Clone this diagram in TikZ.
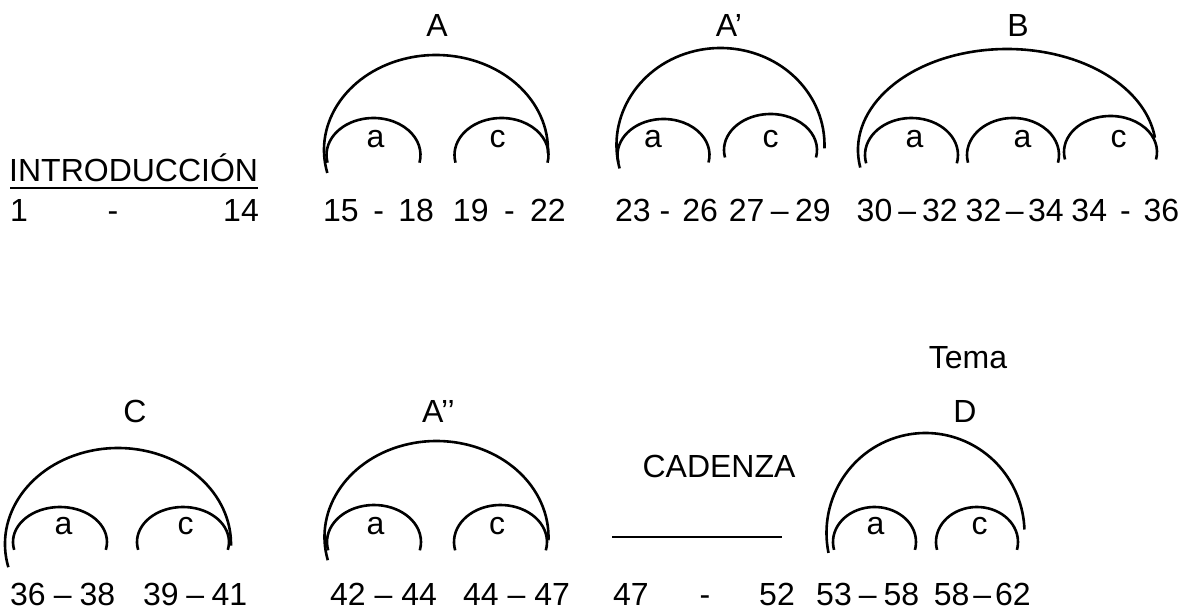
\documentclass[tikz,border=0pt]{standalone}
\usepackage{fontspec}
\setmainfont{Liberation Sans}
\newcommand\gp[1]{\hspace{#1pt}}
\begin{document}
\begin{tikzpicture}[x=1pt,y=1pt,
  arcline/.style={line width=2.6pt},
  ul/.style={line width=1.4pt},
  lbl/.style={inner sep=0pt,font=\fontsize{32}{38}\selectfont},
]
\newcommand\myarc[6]{\draw[arcline] (#1,#2) ++(#5:#3 and #4) arc[start angle=#5,end angle=#6,x radius=#3,y radius=#4];}
\fill[white] (0,0) rectangle (1194,610);
\useasboundingbox (0,0) rectangle (1194,610);

% ---------- top row ----------
\node[lbl,anchor=base west] (intro) at (9,428) {INTRODUCCIÓN};
\coordinate (iul1) at (10,422);
\coordinate (iul2) at (258,422);
\draw[ul] (iul1) -- (iul2);
\node[lbl,anchor=base west] (n1) at (10,388) {1};
\node[lbl,anchor=base] (n1d) at (113,388) {-};
\node[lbl,anchor=base east] (n14) at (259,388) {14};

% A
\node[lbl,anchor=base] (lA) at (437,573) {A};
\myarc{436}{460}{112}{95}{194}{-2}
\myarc{373.5}{455}{47}{37}{192}{-12}
\myarc{501.5}{455}{47}{37}{192}{-12}
\node[lbl,anchor=base] (lAa) at (375.5,462) {a};
\node[lbl,anchor=base] (lAc) at (497.5,462) {c};
\node[lbl,anchor=base west] (nA1) at (323,388) {15\gp{14.5}-\gp{14.5}18};
\node[lbl,anchor=base east] (nA2) at (566,388) {19\gp{15.5}-\gp{15.5}22};

% A'
\node[lbl,anchor=base] (lA1) at (729,573) {A’};
\myarc{720.5}{465}{104}{97}{194}{-2}
\myarc{663.5}{455}{46}{36}{192}{-12}
\myarc{770.5}{460}{46.5}{36}{192}{-12}
\node[lbl,anchor=base] (lA1a) at (653,462) {a};
\node[lbl,anchor=base] (lA1c) at (770.5,462) {c};
\node[lbl,anchor=base west] (nB1) at (615,388) {23 -\gp{12}26};
\node[lbl,anchor=base east] (nB2) at (831,388) {27\gp{6.5}–\gp{6.5}29};

% B
\node[lbl,anchor=base] (lB) at (1018,573) {B};
\myarc{1007}{460}{149}{101}{190}{7}
\myarc{911.5}{455}{46.5}{37}{193}{-13}
\myarc{1013}{455}{46}{37}{192}{-12}
\myarc{1110.5}{458}{46.5}{36}{192}{-12}
\node[lbl,anchor=base] (lBa1) at (914.5,462) {a};
\node[lbl,anchor=base] (lBa2) at (1022.5,462) {a};
\node[lbl,anchor=base] (lBc) at (1118.5,462) {c};
\node[lbl,anchor=base west] (nC1) at (856.5,388) {30\gp{6}–\gp{6}32};
\node[lbl,anchor=base west] (nC2) at (965.5,388) {32\gp{4.5}–\gp{4.5}34};
\node[lbl,anchor=base east] (nC3) at (1179.5,388) {34\gp{13}-\gp{13}36};

% ---------- bottom row ----------
% C
\node[lbl,anchor=base] (lC) at (135,187) {C};
\myarc{118}{66}{113}{96}{194}{-1}
\myarc{60}{68}{47}{35}{193}{-13}
\myarc{183}{68}{46}{35}{193}{-13}
\node[lbl,anchor=base] (lCa) at (63.5,75) {a};
\node[lbl,anchor=base] (lCc) at (185.5,75) {c};
\node[lbl,anchor=base west] (nD1) at (10,4.5) {36\gp{8}–\gp{8}38};
\node[lbl,anchor=base west] (nD2) at (143,4.5) {39\gp{7.5}–\gp{7.5}41};

% A''
\node[lbl,anchor=base] (lA2) at (438.5,187) {A’’};
\myarc{436.5}{73}{112}{96}{194}{-2}
\myarc{374}{68}{47}{37}{193}{-13}
\myarc{500.5}{68}{46.5}{37}{193}{-13}
\node[lbl,anchor=base] (lA2a) at (375.5,75) {a};
\node[lbl,anchor=base] (lA2c) at (497,75) {c};
\node[lbl,anchor=base west] (nE1) at (330,4.5) {42 – 44};
\node[lbl,anchor=base west] (nE2) at (463,4.5) {44 – 47};

% CADENZA
\node[lbl,anchor=base] (cad) at (719,132) {CADENZA};
\coordinate (cul1) at (612,73);
\coordinate (cul2) at (782,73);
\draw[ul] (cul1) -- (cul2);
\node[lbl,anchor=base west] (n47) at (613,4.5) {47};
\node[lbl,anchor=base] (n47d) at (705,4.5) {-};
\node[lbl,anchor=base east] (n52) at (795,4.5) {52};

% D
\node[lbl,anchor=base] (tema) at (968,241) {Tema};
\node[lbl,anchor=base] (lD) at (965,187) {D};
\myarc{925.5}{77}{99}{100}{191.5}{2}
\myarc{874.5}{68}{41.5}{35}{193}{-13}
\myarc{977}{68}{41}{35}{193}{-13}
\node[lbl,anchor=base] (lDa) at (875.5,75) {a};
\node[lbl,anchor=base] (lDc) at (979.5,75) {c};
\node[lbl,anchor=base west] (nF1) at (816,4.5) {53\gp{7}–\gp{7}58};
\node[lbl,anchor=base east] (nF2) at (1031,4.5) {58\gp{4}–\gp{4}62};
\end{tikzpicture}
\end{document}
